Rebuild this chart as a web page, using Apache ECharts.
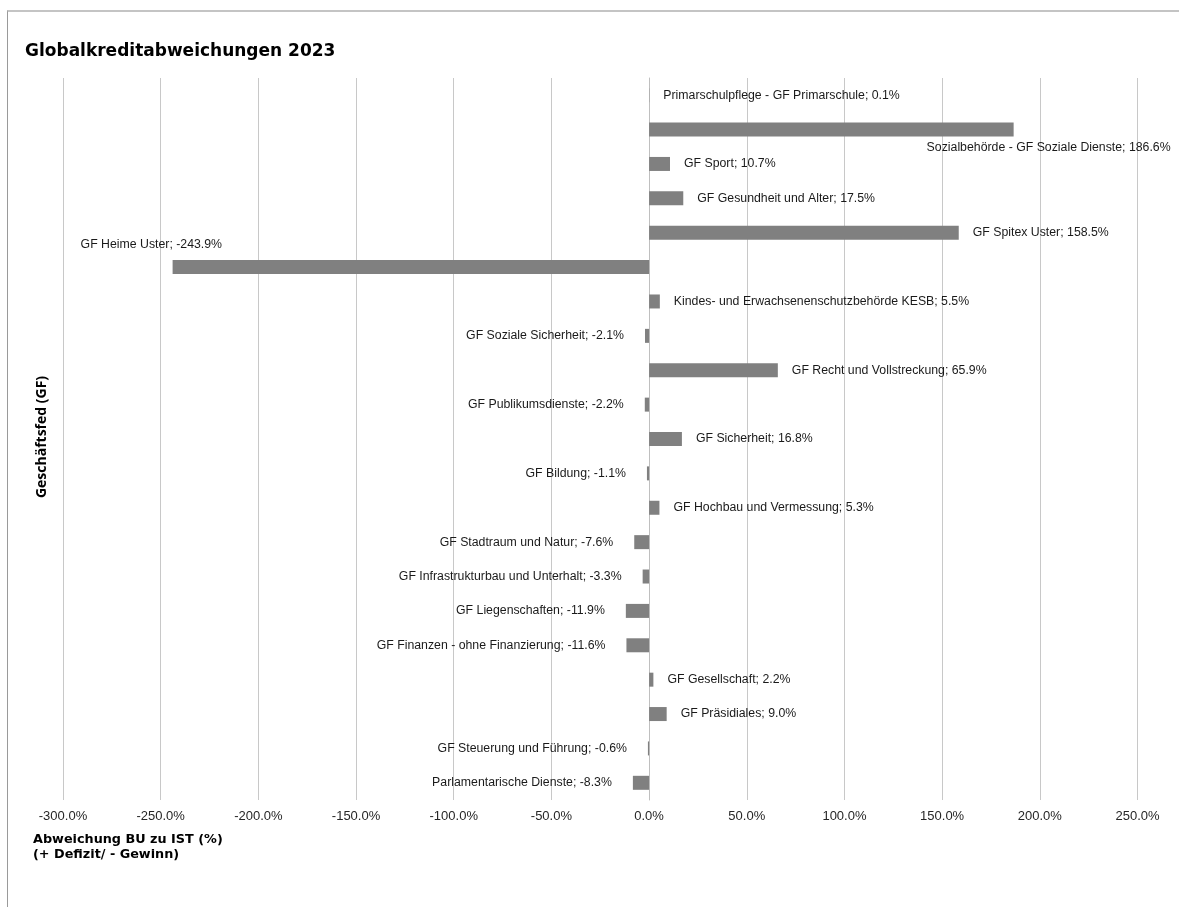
<!DOCTYPE html>
<html>
<head>
<meta charset="utf-8">
<script src="https://cdn.jsdelivr.net/npm/echarts@6/dist/echarts.min.js"></script>
<style>
  html, body { margin: 0; padding: 0; background: #fff; overflow: hidden; }
  #frame {
    position: absolute; left: 7px; top: 10px; width: 1300px; height: 1000px;
    border-top: 2px solid #c4c4c4; border-left: 1px solid #9a9a9a;
  }
  #chart { position: absolute; left: 0; top: 0; width: 1179px; height: 907px; }
</style>
</head>
<body>
<div id="frame"></div>
<div id="chart"></div>
<script>
  // Geschäftsfelder, von oben nach unten
  const categories = [
    'Primarschulpflege - GF Primarschule',
    'Sozialbehörde - GF Soziale Dienste',
    'GF Sport',
    'GF Gesundheit und Alter',
    'GF Spitex Uster',
    'GF Heime Uster',
    'Kindes- und Erwachsenenschutzbehörde KESB',
    'GF Soziale Sicherheit',
    'GF Recht und Vollstreckung',
    'GF Publikumsdienste',
    'GF Sicherheit',
    'GF Bildung',
    'GF Hochbau und Vermessung',
    'GF Stadtraum und Natur',
    'GF Infrastrukturbau und Unterhalt',
    'GF Liegenschaften',
    'GF Finanzen - ohne Finanzierung',
    'GF Gesellschaft',
    'GF Präsidiales',
    'GF Steuerung und Führung',
    'Parlamentarische Dienste'
  ];
  // Abweichung BU zu IST in %
  const deviation = [
    0.1, 186.6, 10.7, 17.5, 158.5, -243.9, 5.5, -2.1, 65.9, -2.2, 16.8,
    -1.1, 5.3, -7.6, -3.3, -11.9, -11.6, 2.2, 9.0, -0.6, -8.3
  ];
  const xMin = -300, xMax = 250, xStep = 50;

  const labelFont = 'Tahoma, "Liberation Sans", Arial, sans-serif';

  const barData = deviation.map(function (v, i) {
    const item = { value: v, label: {} };
    if (v >= 0) {
      item.label.position = 'right';
      item.label.distance = 14;
    } else {
      item.label.position = 'left';
      item.label.distance = 21;
    }
    // zwei Beschriftungen liegen in Excel neben dem Balken
    if (categories[i] === 'Sozialbehörde - GF Soziale Dienste') {
      item.label.position = 'right';
      item.label.distance = 5;
      item.label.align = 'right';
      item.label.offset = [152, 18];
    }
    if (categories[i] === 'GF Heime Uster') {
      item.label.position = 'left';
      item.label.distance = 5;
      item.label.align = 'left';
      item.label.offset = [-87, -22];
    }
    return item;
  });

  const myChart = echarts.init(document.getElementById('chart'));
  const option = {
    animation: false,
    title: {
      text: 'Globalkreditabweichungen 2023',
      left: 25,
      top: 43,
      padding: 0,
      textStyle: {
        fontFamily: '"DejaVu Sans", Verdana, sans-serif',
        fontWeight: 'bold',
        fontSize: 17,
        color: '#000'
      }
    },
    grid: { left: 63, right: 41.5, top: 78, bottom: 107, containLabel: false },
    xAxis: {
      type: 'value',
      min: xMin,
      max: xMax,
      interval: xStep,
      axisLine: { show: false },
      axisTick: { show: false },
      axisLabel: {
        margin: 10,
        fontFamily: labelFont,
        fontSize: 13,
        color: '#262626',
        formatter: function (v) { return v.toFixed(1) + '%'; }
      },
      splitLine: { lineStyle: { color: '#c8c8c8', width: 1 } }
    },
    yAxis: {
      type: 'category',
      inverse: true,
      data: categories,
      axisLine: { lineStyle: { color: '#bfbfbf', width: 1 } },
      axisTick: { show: false },
      axisLabel: { show: false }
    },
    graphic: [
      {
        type: 'text',
        x: 42,
        y: 437,
        rotation: Math.PI / 2,
        style: {
          text: 'Geschäftsfed (GF)',
          fontFamily: '"Open Sans", sans-serif',
          fontWeight: 'bold',
          fontSize: 14,
          fill: '#000',
          align: 'center',
          verticalAlign: 'middle'
        }
      },
      {
        type: 'text',
        left: 33,
        top: 832,
        style: {
          text: 'Abweichung BU zu IST (%)\n(+ Defizit/ - Gewinn)',
          fontFamily: '"DejaVu Sans", Verdana, sans-serif',
          fontWeight: 'bold',
          fontSize: 12.8,
          lineHeight: 15,
          fill: '#000'
        }
      }
    ],
    series: [
      {
        type: 'bar',
        data: barData,
        barWidth: 14,
        itemStyle: { color: '#808080' },
        label: {
          show: true,
          fontFamily: labelFont,
          fontSize: 12.3,
          color: '#1a1a1a',
          formatter: function (p) {
            return p.name + '; ' + p.value.toFixed(1) + '%';
          }
        }
      }
    ]
  };
  myChart.setOption(option);
</script>
</body>
</html>
